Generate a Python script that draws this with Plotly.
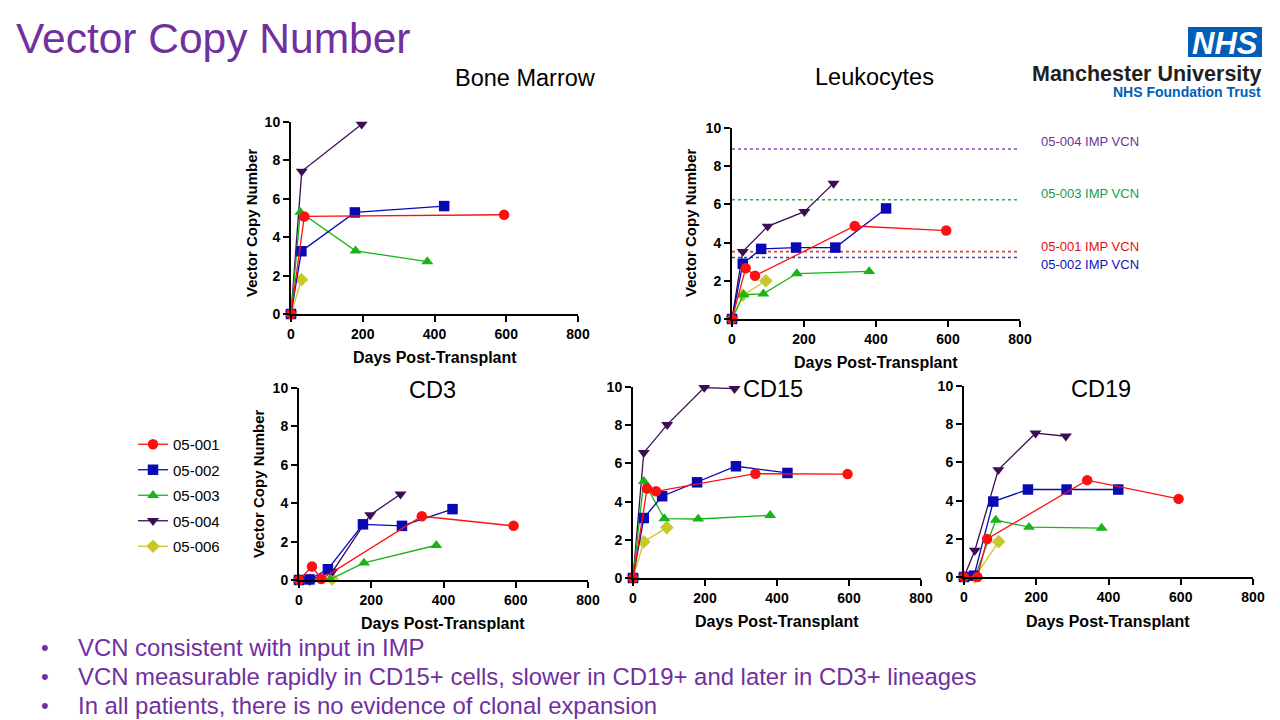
import plotly.graph_objects as go

W, H = 1280, 720

patients = ["05-001", "05-002", "05-003", "05-004", "05-006"]
colors = {"05-001": "#FF1010", "05-002": "#0A0AB4", "05-003": "#18B418",
          "05-004": "#3C0C55", "05-006": "#C8C828"}
symbols = {"05-001": "circle", "05-002": "square", "05-003": "triangle-up",
           "05-004": "triangle-down", "05-006": "diamond"}

# ---- Data (days post-transplant, VCN) ----
bm_days = {
    "05-001": [0, 37, 594],
    "05-002": [0, 29, 178, 427],
    "05-003": [0, 26, 180, 380],
    "05-004": [0, 30, 197],
    "05-006": [0, 29],
}
bm_vcn = {
    "05-001": [0, 5.08, 5.17],
    "05-002": [0, 3.27, 5.29, 5.62],
    "05-003": [0, 5.30, 3.29, 2.73],
    "05-004": [0, 7.43, 9.88],
    "05-006": [0, 1.79],
}
leu_days = {
    "05-001": [0, 38, 64, 341, 595],
    "05-002": [0, 30, 81, 178, 287, 428],
    "05-003": [0, 32, 87, 180, 381],
    "05-004": [0, 30, 99, 201, 282],
    "05-006": [0, 30, 94],
}
leu_vcn = {
    "05-001": [0, 2.66, 2.26, 4.87, 4.63],
    "05-002": [0, 2.89, 3.67, 3.74, 3.74, 5.79],
    "05-003": [0, 1.27, 1.32, 2.38, 2.49],
    "05-004": [0, 3.53, 4.85, 5.62, 7.10],
    "05-006": [0, 1.25, 2.00],
}
imp_patients = ["05-004", "05-003", "05-001", "05-002"]
imp_vcn = [8.9, 6.24, 3.53, 3.22]
imp_line_colors = ["#8A4AB0", "#3AA84A", "#E04040", "#4040B0"]
imp_text_colors = ["#7030A0", "#10A050", "#E01010", "#1010C0"]

cd3_days = {
    "05-001": [0, 36, 62, 340, 594],
    "05-002": [0, 29, 80, 177, 285, 425],
    "05-003": [0, 30, 86, 180, 380],
    "05-004": [0, 30, 93, 197, 281],
    "05-006": [0, 30, 92],
}
cd3_vcn = {
    "05-001": [0, 0.70, 0.05, 3.32, 2.82],
    "05-002": [0, 0.03, 0.56, 2.90, 2.82, 3.69],
    "05-003": [0, 0, 0.03, 0.89, 1.81],
    "05-004": [0, 0, 0.45, 3.39, 4.47],
    "05-006": [0, 0, 0.05],
}
cd15_days = {
    "05-001": [0, 39, 64, 340, 596],
    "05-002": [0, 30, 81, 178, 286, 429],
    "05-003": [0, 30, 87, 181, 381],
    "05-004": [0, 30, 95, 198, 282],
    "05-006": [0, 30, 94],
}
cd15_vcn = {
    "05-001": [0, 4.68, 4.54, 5.46, 5.44],
    "05-002": [0, 3.14, 4.28, 5.01, 5.85, 5.50],
    "05-003": [0, 5.06, 3.11, 3.09, 3.28],
    "05-004": [0, 6.56, 8.03, 9.97, 9.91],
    "05-006": [0, 1.90, 2.64],
}
cd19_days = {
    "05-001": [0, 37, 64, 341, 594],
    "05-002": [0, 28, 81, 177, 284, 427],
    "05-003": [0, 30, 88, 180, 381],
    "05-004": [0, 30, 95, 198, 282],
    "05-006": [0, 30, 96],
}
cd19_vcn = {
    "05-001": [0, 0, 1.99, 5.07, 4.09],
    "05-002": [0, 0.07, 3.95, 4.58, 4.58, 4.58],
    "05-003": [0, 0, 2.98, 2.61, 2.56],
    "05-004": [0, 1.39, 5.61, 7.53, 7.37],
    "05-006": [0, 0, 1.85],
}

x_ticks = [0, 200, 400, 600, 800]
y_ticks = [0, 2, 4, 6, 8, 10]

FONT = "Liberation Sans, Arial, sans-serif"
PURPLE = "#7030A0"


def px(x):
    return x / W


def py(y):
    return 1 - y / H


# panel pixel boxes: (left, right, top, bottom)
panels = [
    ("Bone Marrow", bm_days, bm_vcn, (291, 578, 122, 314), "x", "y"),
    ("Leukocytes", leu_days, leu_vcn, (732, 1020, 128, 319), "x2", "y2"),
    ("CD3", cd3_days, cd3_vcn, (299, 588, 388, 580), "x3", "y3"),
    ("CD15", cd15_days, cd15_vcn, (633, 921, 387, 578), "x4", "y4"),
    ("CD19", cd19_days, cd19_vcn, (964, 1253, 386, 577), "x5", "y5"),
]

fig = go.Figure()

# reference IMP VCN lines on leukocytes panel
for p, v, c in zip(imp_patients, imp_vcn, imp_line_colors):
    fig.add_trace(go.Scatter(x=[0, 800], y=[v, v], mode="lines",
                             line=dict(color=c, width=1.6, dash="dot"),
                             xaxis="x2", yaxis="y2", showlegend=False,
                             hoverinfo="skip"))

for pi, (name, dd, vv, box, xa, ya) in enumerate(panels):
    for rank, p in reversed(list(enumerate(patients))):
        fig.add_trace(go.Scatter(
            x=dd[p], y=vv[p], mode="lines+markers", name=p,
            legendgroup=p, legendrank=rank + 1, showlegend=(pi == 0),
            line=dict(color=colors[p], width=1.3),
            marker=dict(color=colors[p], symbol=symbols[p], size=10.5,
                        line=dict(width=0)),
            cliponaxis=False, xaxis=xa, yaxis=ya))

layout = dict(
    width=W, height=H, autosize=False,
    margin=dict(l=0, r=0, t=0, b=0, pad=0, autoexpand=False),
    paper_bgcolor="white", plot_bgcolor="white",
    font=dict(family=FONT, color="black"),
    showlegend=True,
    legend=dict(x=px(133), y=py(428), xanchor="left", yanchor="top",
                font=dict(size=15, family=FONT, color="black"),
                bgcolor="rgba(0,0,0,0)", tracegroupgap=3, itemwidth=30),
)

axis_common = dict(showgrid=False, zeroline=False, showline=True,
                   linecolor="black", linewidth=2, ticks="outside",
                   ticklen=6, tickwidth=2, tickcolor="black", automargin=False,
                   tickfont=dict(size=14, family=FONT, color="black",
                                 weight="bold"), fixedrange=True)

for i, (name, dd, vv, box, xa, ya) in enumerate(panels):
    l, r, t, b = box
    suffix = "" if i == 0 else str(i + 1)
    layout["xaxis" + suffix] = dict(axis_common, domain=[px(l), px(r)],
                                    range=[0, 800], tickvals=x_ticks,
                                    anchor=ya)
    layout["yaxis" + suffix] = dict(axis_common, domain=[py(b), py(t)],
                                    range=[0, 10], tickvals=y_ticks,
                                    anchor=xa)

fig.update_layout(**layout)

ann = []


def text(x, y, s, size, color="black", bold=False, anchor="center",
         angle=0, italic=False):
    f = dict(size=size, family=FONT, color=color)
    if bold:
        f["weight"] = "bold"
    if italic:
        f["style"] = "italic"
    ann.append(dict(x=px(x), y=py(y), xref="paper", yref="paper", text=s,
                    showarrow=False, font=f, xanchor=anchor,
                    yanchor="middle", textangle=angle))


# main title
text(14, 38, "Vector Copy Number", 42.5, PURPLE, anchor="left")

# panel titles
text(525, 78, "Bone Marrow", 23.5)
text(874, 77, "Leukocytes", 23.5)
text(432, 390, "CD3", 23.5)
text(773, 389, "CD15", 23.5)
text(1101, 389, "CD19", 23.5)

# axis titles
text(435, 357, "Days Post-Transplant", 16, bold=True)
text(876, 362, "Days Post-Transplant", 16, bold=True)
text(443, 623, "Days Post-Transplant", 16, bold=True)
text(777, 621, "Days Post-Transplant", 16, bold=True)
text(1108, 621, "Days Post-Transplant", 16, bold=True)
text(251, 223, "Vector Copy Number", 15, bold=True, angle=-90)
text(690, 223, "Vector Copy Number", 15, bold=True, angle=-90)
text(258, 484, "Vector Copy Number", 15, bold=True, angle=-90)

# IMP labels
imp_label_y = [142, 194, 246, 264]
for p, yy, c in zip(imp_patients, imp_label_y, imp_text_colors):
    text(1090, yy, p + " IMP VCN", 13, c)

# bullets
bullets = ["VCN consistent with input in IMP",
           "VCN measurable rapidly in CD15+ cells, slower in CD19+ and later in CD3+ lineages",
           "In all patients, there is no evidence of clonal expansion"]
for yy, s in zip([647, 676, 705], bullets):
    text(39, yy, "•", 22, PURPLE, anchor="left")
    text(76, yy, s, 23.9, PURPLE, anchor="left")

# logo
text(1225, 43, "NHS", 31, "white", bold=True, italic=True)
text(1263, 74, "Manchester University", 21.5, "#231F20", bold=True, anchor="right")
text(1263, 92, "NHS Foundation Trust", 14, "#005EB8", bold=True, anchor="right")

fig.update_layout(
    annotations=ann,
    shapes=[dict(type="rect", xref="paper", yref="paper",
                 x0=px(1188), x1=px(1262), y0=py(57), y1=py(27),
                 fillcolor="#005EB8", line=dict(width=0), layer="below")])

fig.write_html("out.html", config={"displayModeBar": False},
               post_script="document.body.style.margin='0px';"
                           "document.body.style.overflow='hidden';")
